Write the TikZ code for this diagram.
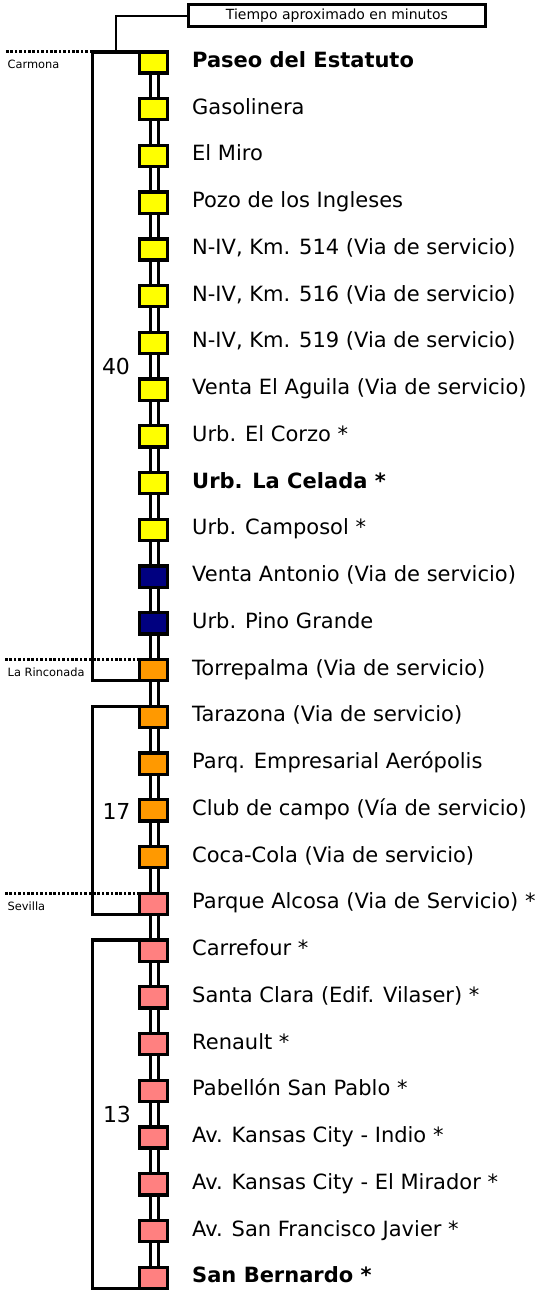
\documentclass[tikz,border=0pt]{standalone}
\usepackage{fontspec}
\setmainfont{DejaVu Sans}
\definecolor{yel}{HTML}{FFFF00}
\definecolor{nav}{HTML}{000080}
\definecolor{ora}{HTML}{FF9900}
\definecolor{pnk}{HTML}{FF8080}
\begin{document}
\begin{tikzpicture}[x=1pt,y=-1pt,
  stopbox/.style={draw=black, line width=3.3pt, minimum width=27.7pt, minimum height=21.2pt, inner sep=0pt, outer sep=0pt},
  lbl/.style={anchor=base west, inner sep=0pt, font=\fontsize{21}{24}\selectfont},
  rail/.style={line width=3.4pt},
  bracket/.style={line width=3.3pt, line join=miter},
  dotline/.style={line width=3pt, dash pattern=on 2.6pt off 1.8pt},
  side/.style={anchor=base west, inner sep=0pt, font=\fontsize{11.4}{13}\selectfont},
  num/.style={inner sep=0pt, font=\fontsize{22}{24}\selectfont},
  legend/.style={draw=black, line width=3pt, minimum width=296.7pt, minimum height=22pt, inner sep=0pt, outer sep=0pt, font=\fontsize{14}{16}\selectfont}]
\useasboundingbox (0,0) rectangle (541,1293);
% stops
\foreach \c/\t [count=\i from 0] in {
  yel/{\textbf{Paseo del Estatuto}},
  yel/{Gasolinera},
  yel/{El Miro},
  yel/{Pozo de los Ingleses},
  yel/{N-IV, Km. 514 (Via de servicio)},
  yel/{N-IV, Km. 516 (Via de servicio)},
  yel/{N-IV, Km. 519 (Via de servicio)},
  yel/{Venta El Aguila (Via de servicio)},
  yel/{Urb. El Corzo *},
  yel/{\textbf{Urb. La Celada *}},
  yel/{Urb. Camposol *},
  nav/{Venta Antonio (Via de servicio)},
  nav/{Urb. Pino Grande},
  ora/{Torrepalma (Via de servicio)},
  ora/{Tarazona (Via de servicio)},
  ora/{Parq. Empresarial Aerópolis},
  ora/{Club de campo (Vía de servicio)},
  ora/{Coca-Cola (Via de servicio)},
  pnk/{Parque Alcosa (Via de Servicio) *},
  pnk/{Carrefour *},
  pnk/{Santa Clara (Edif. Vilaser) *},
  pnk/{Renault *},
  pnk/{Pabellón San Pablo *},
  pnk/{Av. Kansas City - Indio *},
  pnk/{Av. Kansas City - El Mirador *},
  pnk/{Av. San Francisco Javier *},
  pnk/{\textbf{San Bernardo *}}} {
  \pgfmathsetmacro\yy{62.5+\i*46.74}
  \node[stopbox, fill=\c] (s\i) at (153.5,\yy) {};
  \node[lbl] (t\i) at (192,\yy+5) {\t};
}
% rails
\foreach \i in {0,...,25} {
  \pgfmathtruncatemacro\j{\i+1}
  \draw[rail] ([xshift=-3.3pt]s\i.south) -- ([xshift=-3.3pt]s\j.north);
  \draw[rail] ([xshift=4.7pt]s\i.south) -- ([xshift=4.7pt]s\j.north);
}
% brackets
\draw[bracket] (s0.north west) -- ++(-47.5,0) coordinate (b1) |- (s13.south west);
\draw[bracket] (s14.north west) -- ++(-47.5,0) |- (s18.south west);
\draw[bracket] (s19.north west) -- ++(-47.5,0) |- (s26.south west);
% dotted boundaries
\coordinate (dL) at (5,0);
\draw[dotline] (b1) -- (b1 -| dL);
\draw[dotline] (s13.north west) -- (s13.north west -| dL);
\draw[dotline] (s18.north west) -- (s18.north west -| dL);
\node[side] (carm) at ([yshift=-17pt]b1 -| 7.5,0) {Carmona};
\node[side] (rinc) at ([yshift=-17pt]s13.north west -| 7.5,0) {La Rinconada};
\node[side] (sev) at ([yshift=-17pt]s18.north west -| 7.5,0) {Sevilla};
% times
\node[num] (n40) at (116,{62.5+6.5*46.74}) {40};
\node[num] (n17) at (116.5,{62.5+16*46.74+1}) {17};
\node[num] (n13) at (117,{62.5+22.5*46.74}) {13};
% legend
\node[legend] (leg) at (336.9,15.8) {Tiempo aproximado en minutos};
\coordinate (jn) at (116,51.75);
\draw[line width=1.6pt] (leg.west) -| (jn);
\end{tikzpicture}
\end{document}
